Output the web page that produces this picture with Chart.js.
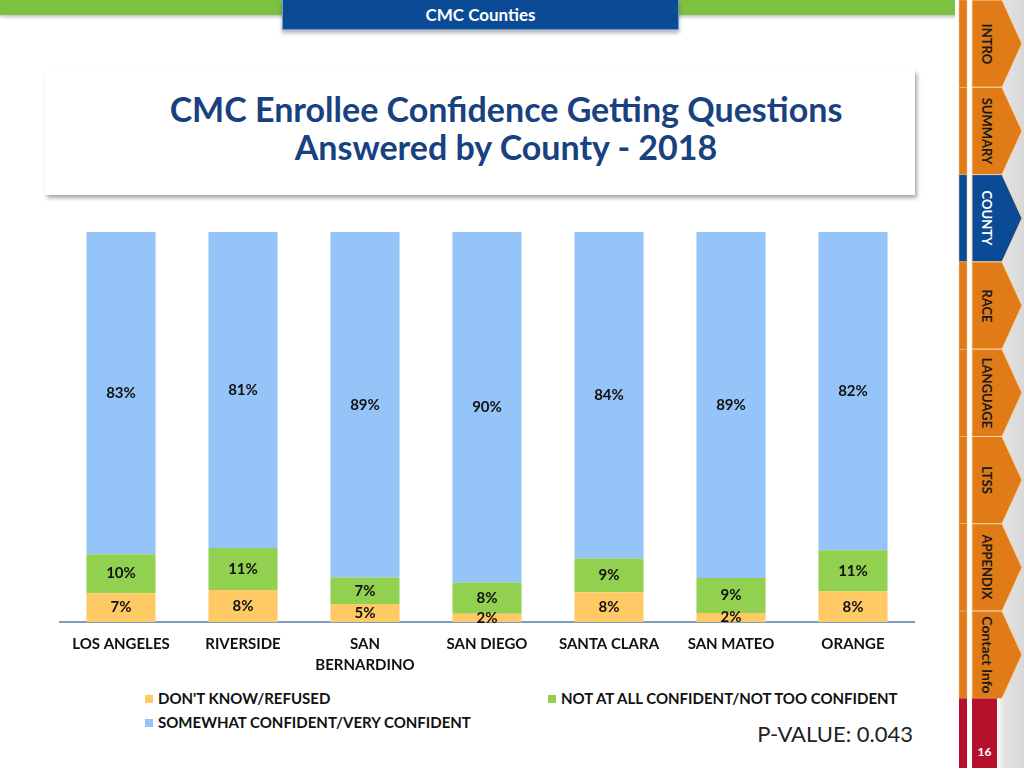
<!DOCTYPE html>
<html>
<head>
<meta charset="utf-8">
<script src="https://cdn.jsdelivr.net/npm/chart.js@4.4.1/dist/chart.umd.min.js"></script>
<style>
  html, body { margin:0; padding:0; background:#fff; }
  body { width:1024px; height:768px; position:relative; overflow:hidden; font-family: Lato, "Open Sans", sans-serif; }
  .greenbar { position:absolute; left:0; top:0; width:958px; height:15px; background:#7DC142; box-shadow:0 2px 3px rgba(0,0,0,0.25); }
  .tab { position:absolute; left:282px; top:0; width:397px; height:30px; background:#0B4A94; border:1px solid #6A9BD8; border-top:none; box-sizing:border-box; box-shadow:0 3px 4px rgba(0,0,0,0.3); color:#fff; font-weight:bold; font-size:17px; text-align:center; line-height:30px; }
  .titlebox { position:absolute; left:45px; top:70px; width:870px; height:125px; background:#fff; box-shadow:2px 3px 4px rgba(0,0,0,0.35); }
  .titlebox h1 { margin:0; position:absolute; left:52px; right:0; top:20px; text-align:center; color:#17427F; font-size:34px; line-height:38px; font-weight:bold; letter-spacing:0px; }
  #wrap { position:absolute; left:0; top:220px; width:940px; height:462px; }
  .legend { position:absolute; font-size:15px; font-weight:bold; color:#111; }
  .legend span.sw { display:inline-block; width:8px; height:8px; margin-right:5px; vertical-align:1px; }
  .pval { position:absolute; right:111px; top:720px; font-size:22px; color:#222; }
  .nav { position:absolute; left:955px; top:0; width:69px; height:768px; background:linear-gradient(to right,#fff 0,#fff 40px,#e2e2e2 50px,#d8d8d8 69px); }
  .navtxt { position:absolute; font-size:13px; font-weight:bold; color:#1a1a1a; transform:rotate(90deg); transform-origin:center center; white-space:nowrap; text-align:center; }
</style>
</head>
<body>
<div class="greenbar"></div>
<div class="tab">CMC Counties</div>
<div class="titlebox"><h1>CMC Enrollee Confidence Getting Questions<br>Answered by County - 2018</h1></div>
<div id="wrap"><canvas id="c"></canvas></div>
<div id="legend"></div>
<div class="pval">P-VALUE: 0.043</div>
<div class="nav" id="nav"></div>

<script>
const categories = ["LOS ANGELES", "RIVERSIDE", ["SAN", "BERNARDINO"], "SAN DIEGO", "SANTA CLARA", "SAN MATEO", "ORANGE"];
const seriesNames = ["DON'T KNOW/REFUSED", "NOT AT ALL CONFIDENT/NOT TOO CONFIDENT", "SOMEWHAT CONFIDENT/VERY CONFIDENT"];
const dontKnow = [7.4, 8.2, 4.6, 2.1, 7.6, 2.3, 7.8];
const notConfident = [10.0, 10.8, 6.8, 8.0, 8.7, 9.0, 10.6];
const confident = [82.6, 81.0, 88.6, 89.9, 83.7, 88.7, 81.6];
const seriesColors = ["#FFC966", "#92D050", "#95C4F8"];
const navItems = ["INTRO", "SUMMARY", "COUNTY", "RACE", "LANGUAGE", "LTSS", "APPENDIX", "Contact Info"];
const pageNumber = "16";

// Legend (HTML)
const legendPos = [[145, 689], [548, 689], [145, 713]];
const lg = document.getElementById('legend');
seriesNames.forEach((n, i) => {
  const d = document.createElement('div');
  d.className = 'legend';
  d.style.left = legendPos[i][0] + 'px';
  d.style.top = legendPos[i][1] + 'px';
  d.innerHTML = '<span class="sw" style="background:' + seriesColors[i] + '"></span>';
  d.appendChild(document.createTextNode(n));
  lg.appendChild(d);
});

// Nav column
const nav = document.getElementById('nav');
const navSvgNS = 'http://www.w3.org/2000/svg';
const svg = document.createElementNS(navSvgNS, 'svg');
svg.setAttribute('width', '69'); svg.setAttribute('height', '768');
svg.style.position = 'absolute'; svg.style.left = '0'; svg.style.top = '0';
nav.appendChild(svg);
const tabH = 87.3;
navItems.forEach((t, i) => {
  const y0 = i * tabH, y1 = (i + 1) * tabH;
  const active = t === "COUNTY";
  const col = active ? '#0B4A94' : '#E07B17';
  const strip = document.createElementNS(navSvgNS, 'rect');
  strip.setAttribute('x', 4); strip.setAttribute('y', y0); strip.setAttribute('width', 8); strip.setAttribute('height', tabH);
  strip.setAttribute('fill', col); strip.setAttribute('stroke', '#f3c89a'); strip.setAttribute('stroke-width', '0.5');
  svg.appendChild(strip);
  const p = document.createElementNS(navSvgNS, 'polygon');
  const ym = (y0 + y1) / 2;
  p.setAttribute('points', `17,${y0} 47,${y0} 67,${ym} 47,${y1} 17,${y1}`);
  p.setAttribute('fill', col); p.setAttribute('stroke', '#f6d2a8'); p.setAttribute('stroke-width', '1');
  svg.appendChild(p);
  const tx = document.createElement('div');
  tx.className = 'navtxt';
  tx.textContent = t;
  tx.style.width = '90px';
  tx.style.left = (32 - 45) + 'px';
  tx.style.top = (ym - 8) + 'px';
  tx.style.lineHeight = '16px';
  if (active) tx.style.color = '#fff';
  if (t === 'Contact Info') { tx.style.fontSize = '14px'; }
  nav.appendChild(tx);
});
const yr = navItems.length * tabH;
const r1 = document.createElementNS(navSvgNS, 'rect');
r1.setAttribute('x', 4); r1.setAttribute('y', yr); r1.setAttribute('width', 8); r1.setAttribute('height', 768 - yr); r1.setAttribute('fill', '#B5112C');
svg.appendChild(r1);
const r2 = document.createElementNS(navSvgNS, 'rect');
r2.setAttribute('x', 17); r2.setAttribute('y', yr); r2.setAttribute('width', 25); r2.setAttribute('height', 768 - yr); r2.setAttribute('fill', '#B5112C');
svg.appendChild(r2);
const pn = document.createElement('div');
pn.textContent = pageNumber;
pn.style.cssText = 'position:absolute;left:17px;width:25px;top:744px;text-align:center;color:#fff;font-size:12px;font-weight:bold;';
nav.appendChild(pn);

// Value label plugin
const valueLabels = {
  id: 'valueLabels',
  afterDatasetsDraw(chart) {
    const ctx = chart.ctx;
    ctx.save();
    ctx.font = 'bold 15px Lato, "Open Sans", sans-serif';
    ctx.fillStyle = '#111';
    ctx.textAlign = 'center';
    ctx.textBaseline = 'middle';
    chart.data.datasets.forEach((ds, di) => {
      const meta = chart.getDatasetMeta(di);
      meta.data.forEach((el, i) => {
        const { x, y, base } = el.getProps(['x', 'y', 'base'], true);
        ctx.fillText(Math.round(ds.data[i]) + '%', x, (y + base) / 2);
      });
    });
    ctx.restore();
  }
};

new Chart(document.getElementById('c'), {
  type: 'bar',
  data: {
    labels: categories,
    datasets: [
      { label: seriesNames[0], data: dontKnow, backgroundColor: seriesColors[0] },
      { label: seriesNames[1], data: notConfident, backgroundColor: seriesColors[1] },
      { label: seriesNames[2], data: confident, backgroundColor: seriesColors[2] }
    ]
  },
  options: {
    responsive: true,
    maintainAspectRatio: false,
    animation: false,
    layout: { padding: { left: 60, right: 26, top: 12, bottom: 0 } },
    datasets: { bar: { barPercentage: 0.566, categoryPercentage: 1.0 } },
    plugins: { legend: { display: false }, tooltip: { enabled: false } },
    scales: {
      x: {
        stacked: true,
        grid: { display: false, drawTicks: false },
        border: { display: true, color: '#7F9DB9', width: 2 },
        ticks: { color: '#111', font: { family: 'Lato, "Open Sans", sans-serif', size: 15, weight: 'bold', lineHeight: 1.4 }, padding: 12, maxRotation: 0, autoSkip: false },
        afterFit(scale) { scale.height = 60; }
      },
      y: { stacked: true, min: 0, max: 100, display: false }
    }
  },
  plugins: [valueLabels]
});
</script>
</body>
</html>
